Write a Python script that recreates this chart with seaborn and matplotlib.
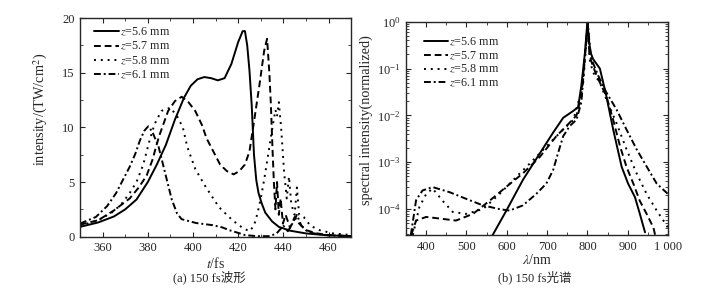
import numpy as np
import pandas as pd
import seaborn as sns
import matplotlib.pyplot as plt
from matplotlib.ticker import MultipleLocator, LogLocator, NullFormatter

sns.set_style('ticks')
plt.rcParams['font.family'] = ['Liberation Serif', 'Noto Sans CJK SC']
plt.rcParams['mathtext.fontset'] = 'stix'
plt.rcParams['font.size'] = 8.7

labels = ['$z$=5.6 mm', '$z$=5.7 mm', '$z$=5.8 mm', '$z$=6.1 mm']
styles = ['-', (0, (3.5, 2)), (0, (1, 2.5)), (0, (3.5, 1.5, 1, 1.5))]

# (a) temporal waveform, t in fs, intensity in TW/cm^2
t_56 = [350, 358, 365, 370, 375, 380, 384, 388, 392, 396, 399, 402, 405, 408, 411, 414, 417, 420, 422, 423, 424, 425, 426, 427, 428, 429, 430.5, 432, 435, 438, 443, 450, 460, 470]
i_56 = [0.9, 1.3, 1.85, 2.5, 3.4, 5.0, 6.6, 8.4, 10.7, 12.7, 13.8, 14.4, 14.6, 14.5, 14.3, 14.5, 15.8, 17.8, 18.8, 18.8, 17.5, 15.2, 12.0, 7.5, 5.2, 4.0, 3.0, 2.2, 1.4, 0.9, 0.55, 0.3, 0.12, 0.05]

t_57 = [350, 358, 365, 372, 376, 379.5, 382, 385, 389, 392, 395, 398, 401, 404, 406, 409, 412, 415, 418, 420.5, 423, 425, 427, 429.5, 431.5, 432.8, 433.8, 434.5, 435.2, 435.8, 436.5, 437.2, 438, 438.8, 439.8, 441, 443, 445, 447, 450, 455, 460, 470]
i_57 = [1.1, 1.5, 2.4, 3.5, 4.5, 5.6, 7.0, 9.2, 11.5, 12.4, 12.8, 12.3, 11.5, 10.2, 9.0, 7.8, 6.6, 6.0, 5.7, 6.0, 6.6, 7.8, 10.5, 14.0, 17.0, 18.1, 15.0, 12.0, 8.0, 5.0, 2.5, 5.0, 2.0, 3.5, 1.2, 2.0, 0.8, 1.8, 1.2, 0.6, 0.3, 0.15, 0.05]

t_58 = [350, 358, 364, 368, 372, 375, 378, 380.5, 383, 386, 390, 393, 395.5, 397.5, 401, 405.5, 411.5, 417.5, 422, 425, 427, 428.5, 430, 431.5, 433.5, 435, 436.5, 437.2, 438, 439, 440.3, 441.5, 442.5, 443.5, 445, 446, 447, 449, 452, 456, 462, 470]
i_58 = [1.0, 1.5, 2.2, 2.9, 4.0, 5.0, 6.6, 8.6, 10.3, 11.5, 11.8, 11.0, 10.0, 8.2, 6.2, 4.6, 2.7, 1.5, 0.8, 0.5, 1.0, 2.1, 3.5, 5.2, 7.8, 9.8, 11.6, 11.0, 12.3, 10.0, 6.0, 3.5, 5.5, 3.0, 2.0, 4.5, 2.0, 1.8, 1.0, 0.6, 0.3, 0.15]

t_61 = [350, 357, 362, 366, 369, 372, 374.5, 376.5, 378.5, 380.2, 382, 384.8, 387.7, 390.6, 393, 395, 401.4, 408.8, 413, 416, 420, 423, 428, 434, 437, 440, 442, 444, 446, 448, 451, 458, 470]
i_61 = [1.2, 1.8, 2.8, 4.0, 5.2, 6.4, 7.6, 8.8, 9.7, 10.1, 9.6, 8.2, 5.8, 3.4, 2.1, 1.6, 1.25, 1.05, 0.85, 0.6, 0.35, 0.15, 0.05, 0.05, 0.3, 1.0, 0.5, 1.2, 2.0, 1.0, 0.4, 0.15, 0.05]

# (b) spectrum, wavelength in nm, normalized spectral intensity
w_56 = [564, 599, 640, 682, 715, 740, 765, 777, 785, 794, 800, 803, 808, 814, 831, 847, 864, 885, 901, 918, 930, 943]
s_56 = [2.7e-5, 9.3e-5, 4.2e-4, 1.55e-3, 4.3e-3, 8.9e-3, 1.25e-2, 1.5e-2, 4.3e-2, 0.22, 1.0, 0.45, 0.22, 0.16, 0.1, 2.6e-2, 5e-3, 8e-4, 3.5e-4, 1.8e-4, 8e-5, 3.2e-5]

w_57 = [363, 375, 400, 433, 474, 516, 557, 599, 640, 682, 723, 756, 773, 785, 798, 801, 805, 810, 823, 847, 864, 881, 897, 914, 930, 947, 964, 968]
s_57 = [2.8e-5, 5.7e-5, 6.8e-5, 6.3e-5, 5.7e-5, 7.9e-5, 1.5e-4, 3e-4, 5.8e-4, 1.3e-3, 3.6e-3, 7e-3, 1e-2, 2.6e-2, 0.5, 0.85, 0.2, 0.14, 0.07, 2.6e-2, 8e-3, 2.2e-3, 8e-4, 3.5e-4, 1.5e-4, 7.9e-5, 4e-5, 2.8e-5]

w_58 = [367, 383, 400, 416, 441, 466, 499, 541, 582, 624, 665, 707, 740, 765, 789, 801, 806, 814, 831, 847, 872, 897, 922, 947, 972, 988, 1000]
s_58 = [2.8e-5, 1.1e-4, 2.1e-4, 2.75e-4, 1.5e-4, 8.7e-5, 7.9e-5, 1e-4, 2.1e-4, 4.9e-4, 1.1e-3, 2.6e-3, 5e-3, 8e-3, 4.3e-2, 0.9, 0.15, 8.3e-2, 5e-2, 2.2e-2, 6.9e-3, 1.9e-3, 5.8e-4, 2.1e-4, 9.3e-5, 5.8e-5, 4e-5]

w_61 = [362, 375, 391, 416, 458, 499, 541, 582, 607, 640, 673, 698, 715, 727, 740, 756, 773, 785, 798, 801, 806, 810, 827, 847, 872, 897, 922, 947, 972, 1000]
s_61 = [2.8e-5, 1.55e-4, 2.5e-4, 2.95e-4, 2.3e-4, 1.66e-4, 1.2e-4, 1e-4, 9.3e-5, 1.2e-4, 2.1e-4, 3.5e-4, 6.8e-4, 1.55e-3, 3.6e-3, 5.9e-3, 8.1e-3, 1.9e-2, 0.5, 0.95, 0.3, 0.16, 7e-2, 3.1e-2, 1.35e-2, 5e-3, 1.9e-3, 8.1e-4, 3.5e-4, 2.1e-4]

wave = [(t_56, i_56), (t_57, i_57), (t_58, i_58), (t_61, i_61)]
spec = [(w_56, s_56), (w_57, s_57), (w_58, s_58), (w_61, s_61)]

fig = plt.figure(figsize=(7.21, 2.91), dpi=100)
ax1 = fig.add_axes([0.111, 0.1866, 0.376, 0.7515])
ax2 = fig.add_axes([0.5631, 0.1924, 0.3634, 0.733])

for (x, y), lab, ls in zip(wave, labels, styles):
    sns.lineplot(x=x, y=y, ax=ax1, color='k', linestyle=ls, lw=1.4, label=lab, sort=False)
for (x, y), lab, ls in zip(spec, labels, styles):
    sns.lineplot(x=x, y=y, ax=ax2, color='k', linestyle=ls, lw=1.4, label=lab, sort=False)

ax1.set_xlim(350, 470)
ax1.set_ylim(0, 20)
ax1.xaxis.set_major_locator(MultipleLocator(20))
ax1.xaxis.set_minor_locator(MultipleLocator(10))
ax1.yaxis.set_major_locator(MultipleLocator(5))
ax1.yaxis.set_minor_locator(MultipleLocator(2.5))
ax1.set_xlabel('$t$/fs', labelpad=1, fontsize=10)
ax1.set_ylabel('intensity/(TW/cm$^2$)', fontsize=10.3)
ax1.yaxis.set_label_coords(-0.111, 0.584)

ax2.set_yscale('log')
ax2.set_xlim(350, 1000)
ax2.set_ylim(2.8e-5, 1)
ax2.set_xticks([400, 500, 600, 700, 800, 900, 1000], ['400', '500', '600', '700', '800', '900', '1 000'])
ax2.xaxis.set_minor_locator(MultipleLocator(50))
ax2.yaxis.set_major_locator(LogLocator(base=10, numticks=10))
ax2.yaxis.set_minor_locator(LogLocator(base=10, subs=np.arange(2, 10), numticks=10))
ax2.yaxis.set_minor_formatter(NullFormatter())
ax2.set_xlabel('$\\lambda$/nm', labelpad=0, fontsize=10)
ax2.set_ylabel('spectral intensity(normalized)', fontsize=10.3)
ax2.yaxis.set_label_coords(-0.126, 0.54)

for ax in (ax1, ax2):
    ax.tick_params(which='both', direction='in', top=True, right=True, labelsize=9, pad=4)
    ax.tick_params(which='major', length=3.5)
    ax.tick_params(which='minor', length=2)
    for s in ax.spines.values():
        s.set_linewidth(1.0)

ax1.legend(loc='upper left', bbox_to_anchor=(0.035, 0.985), frameon=False, handlelength=2.0,
           handletextpad=0.1, labelspacing=0.18, borderaxespad=0)
ax2.legend(loc='upper left', bbox_to_anchor=(0.05, 0.955), frameon=False, handlelength=2.0,
           handletextpad=0.1, labelspacing=0.12, borderaxespad=0)

fig.text(0.29, 0.048, '(a) 150 fs波形', ha='center', va='center', fontsize=9)
fig.text(0.742, 0.048, '(b) 150 fs光谱', ha='center', va='center', fontsize=9)

fig.savefig('out.png', dpi=100)
